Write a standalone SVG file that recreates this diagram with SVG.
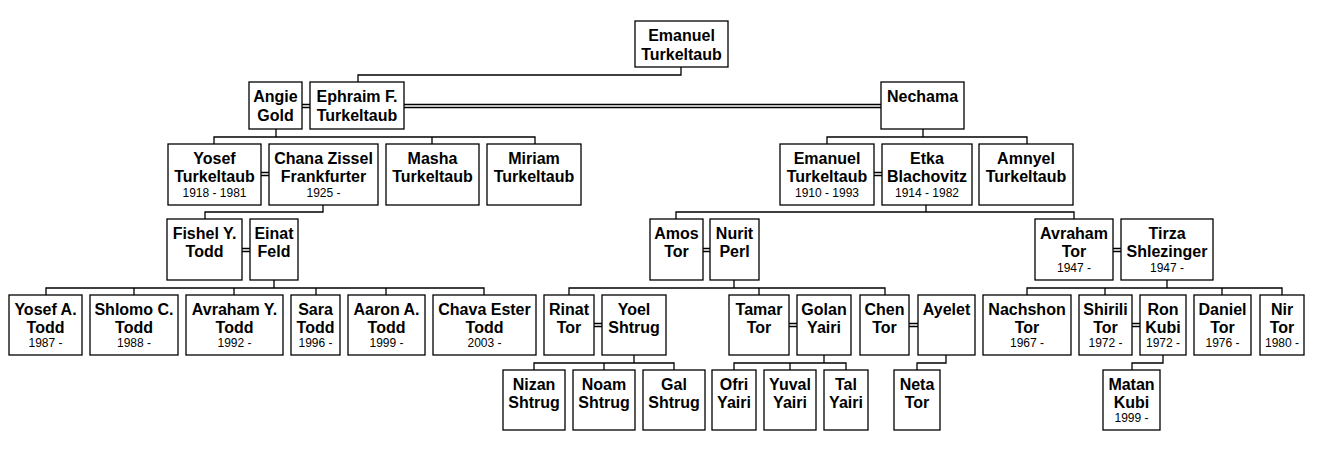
<svg xmlns="http://www.w3.org/2000/svg" width="1323" height="450" viewBox="0 0 1323 450">
<style>
rect{fill:#fff;stroke:#000;stroke-width:1.3}
.n{font-family:"Liberation Sans",Arial,sans-serif;font-weight:bold;font-size:16px;text-anchor:middle;fill:#000}
.d{font-family:"Liberation Sans",Arial,sans-serif;font-size:12px;text-anchor:middle;fill:#000}
#c path{fill:none;stroke:#000;stroke-width:1.3}
</style>
<rect x="0" y="0" width="1323" height="450" style="stroke:none"/>
<g id="c">
<path d="M681 67V75H358V82"/>
<path d="M302 104.5H310M302 107.5H310"/>
<path d="M404 104.5H881M404 107.5H881"/>
<path d="M276 129V137M214 144V137H535V144M432 137V144"/>
<path d="M923 129V137M827 144V137H1027V144"/>
<path d="M261 172.5H269M261 175.5H269"/>
<path d="M874 172.5H882M874 175.5H882"/>
<path d="M323 205V212H205V219"/>
<path d="M926 205V212H676V219M926 212H1074V219"/>
<path d="M242 248.5H250M242 251.5H250"/>
<path d="M703 248.5H710M703 251.5H710"/>
<path d="M1113 248.5H1121M1113 251.5H1121"/>
<path d="M274 280V288M46 295V288H484V295M134 288V295M234 288V295M316 288V295M386 288V295"/>
<path d="M734 280V288M569 295V288H885V295M759 288V295"/>
<path d="M1167 280V288M1027 295V288H1282V295M1105 288V295M1222 288V295"/>
<path d="M594 323.5H602M594 326.5H602"/>
<path d="M789 323.5H797M789 326.5H797"/>
<path d="M909 323.5H918M909 326.5H918"/>
<path d="M1132 323.5H1140M1132 326.5H1140"/>
<path d="M634 355V363M534 370V363H674V370M604 363V370"/>
<path d="M824 355V363M734 370V363H846V370M790 363V370"/>
<path d="M946 355V363H917V370"/>
<path d="M1163 355V363H1132V370"/>
</g>
<g id="n0"><rect x="635" y="21" width="93" height="46"/><text class="n" x="681.5" y="41">Emanuel</text><text class="n" x="681.5" y="60">Turkeltaub</text></g>
<g id="n1"><rect x="249" y="82" width="53" height="47"/><text class="n" x="275.5" y="102">Angie</text><text class="n" x="275.5" y="121">Gold</text></g>
<g id="n2"><rect x="310" y="82" width="94" height="47"/><text class="n" x="357" y="102">Ephraim F.</text><text class="n" x="357" y="121">Turkeltaub</text></g>
<g id="n3"><rect x="881" y="82" width="83" height="47"/><text class="n" x="922.5" y="102">Nechama</text></g>
<g id="n4"><rect x="168" y="144" width="93" height="61"/><text class="n" x="214.5" y="164">Yosef</text><text class="n" x="214.5" y="182">Turkeltaub</text><text class="d" x="214.5" y="197">1918 - 1981</text></g>
<g id="n5"><rect x="269" y="144" width="109" height="61"/><text class="n" x="323.5" y="164">Chana Zissel</text><text class="n" x="323.5" y="182">Frankfurter</text><text class="d" x="323.5" y="197">1925 -</text></g>
<g id="n6"><rect x="386" y="144" width="93" height="61"/><text class="n" x="432.5" y="164">Masha</text><text class="n" x="432.5" y="182">Turkeltaub</text></g>
<g id="n7"><rect x="487" y="144" width="94" height="61"/><text class="n" x="534" y="164">Miriam</text><text class="n" x="534" y="182">Turkeltaub</text></g>
<g id="n8"><rect x="780" y="144" width="94" height="61"/><text class="n" x="827" y="164">Emanuel</text><text class="n" x="827" y="182">Turkeltaub</text><text class="d" x="827" y="197">1910 - 1993</text></g>
<g id="n9"><rect x="882" y="144" width="90" height="61"/><text class="n" x="927" y="164">Etka</text><text class="n" x="927" y="182">Blachovitz</text><text class="d" x="927" y="197">1914 - 1982</text></g>
<g id="n10"><rect x="979" y="144" width="94" height="61"/><text class="n" x="1026" y="164">Amnyel</text><text class="n" x="1026" y="182">Turkeltaub</text></g>
<g id="n11"><rect x="167" y="219" width="75" height="61"/><text class="n" x="204.5" y="239">Fishel Y.</text><text class="n" x="204.5" y="257">Todd</text></g>
<g id="n12"><rect x="250" y="219" width="48" height="61"/><text class="n" x="274" y="239">Einat</text><text class="n" x="274" y="257">Feld</text></g>
<g id="n13"><rect x="650" y="219" width="53" height="61"/><text class="n" x="676.5" y="239">Amos</text><text class="n" x="676.5" y="257">Tor</text></g>
<g id="n14"><rect x="710" y="219" width="49" height="61"/><text class="n" x="734.5" y="239">Nurit</text><text class="n" x="734.5" y="257">Perl</text></g>
<g id="n15"><rect x="1035" y="219" width="78" height="61"/><text class="n" x="1074" y="239">Avraham</text><text class="n" x="1074" y="257">Tor</text><text class="d" x="1074" y="272">1947 -</text></g>
<g id="n16"><rect x="1121" y="219" width="92" height="61"/><text class="n" x="1167" y="239">Tirza</text><text class="n" x="1167" y="257">Shlezinger</text><text class="d" x="1167" y="272">1947 -</text></g>
<g id="n17"><rect x="9" y="295" width="73" height="60"/><text class="n" x="45.5" y="315">Yosef A.</text><text class="n" x="45.5" y="333">Todd</text><text class="d" x="45.5" y="347">1987 -</text></g>
<g id="n18"><rect x="90" y="295" width="88" height="60"/><text class="n" x="134" y="315">Shlomo C.</text><text class="n" x="134" y="333">Todd</text><text class="d" x="134" y="347">1988 -</text></g>
<g id="n19"><rect x="186" y="295" width="97" height="60"/><text class="n" x="234.5" y="315">Avraham Y.</text><text class="n" x="234.5" y="333">Todd</text><text class="d" x="234.5" y="347">1992 -</text></g>
<g id="n20"><rect x="291" y="295" width="49" height="60"/><text class="n" x="315.5" y="315">Sara</text><text class="n" x="315.5" y="333">Todd</text><text class="d" x="315.5" y="347">1996 -</text></g>
<g id="n21"><rect x="348" y="295" width="77" height="60"/><text class="n" x="386.5" y="315">Aaron A.</text><text class="n" x="386.5" y="333">Todd</text><text class="d" x="386.5" y="347">1999 -</text></g>
<g id="n22"><rect x="433" y="295" width="103" height="60"/><text class="n" x="484.5" y="315">Chava Ester</text><text class="n" x="484.5" y="333">Todd</text><text class="d" x="484.5" y="347">2003 -</text></g>
<g id="n23"><rect x="544" y="295" width="50" height="60"/><text class="n" x="569" y="315">Rinat</text><text class="n" x="569" y="333">Tor</text></g>
<g id="n24"><rect x="602" y="295" width="64" height="60"/><text class="n" x="634" y="315">Yoel</text><text class="n" x="634" y="333">Shtrug</text></g>
<g id="n25"><rect x="729" y="295" width="60" height="60"/><text class="n" x="759" y="315">Tamar</text><text class="n" x="759" y="333">Tor</text></g>
<g id="n26"><rect x="797" y="295" width="54" height="60"/><text class="n" x="824" y="315">Golan</text><text class="n" x="824" y="333">Yairi</text></g>
<g id="n27"><rect x="860" y="295" width="49" height="60"/><text class="n" x="884.5" y="315">Chen</text><text class="n" x="884.5" y="333">Tor</text></g>
<g id="n28"><rect x="918" y="295" width="57" height="60"/><text class="n" x="946.5" y="315">Ayelet</text></g>
<g id="n29"><rect x="983" y="295" width="88" height="60"/><text class="n" x="1027" y="315">Nachshon</text><text class="n" x="1027" y="333">Tor</text><text class="d" x="1027" y="347">1967 -</text></g>
<g id="n30"><rect x="1079" y="295" width="53" height="60"/><text class="n" x="1105.5" y="315">Shirili</text><text class="n" x="1105.5" y="333">Tor</text><text class="d" x="1105.5" y="347">1972 -</text></g>
<g id="n31"><rect x="1140" y="295" width="46" height="60"/><text class="n" x="1163" y="315">Ron</text><text class="n" x="1163" y="333">Kubi</text><text class="d" x="1163" y="347">1972 -</text></g>
<g id="n32"><rect x="1194" y="295" width="57" height="60"/><text class="n" x="1222.5" y="315">Daniel</text><text class="n" x="1222.5" y="333">Tor</text><text class="d" x="1222.5" y="347">1976 -</text></g>
<g id="n33"><rect x="1260" y="295" width="44" height="60"/><text class="n" x="1282" y="315">Nir</text><text class="n" x="1282" y="333">Tor</text><text class="d" x="1282" y="347">1980 -</text></g>
<g id="n34"><rect x="503" y="370" width="62" height="60"/><text class="n" x="534" y="390">Nizan</text><text class="n" x="534" y="408">Shtrug</text></g>
<g id="n35"><rect x="573" y="370" width="62" height="60"/><text class="n" x="604" y="390">Noam</text><text class="n" x="604" y="408">Shtrug</text></g>
<g id="n36"><rect x="643" y="370" width="62" height="60"/><text class="n" x="674" y="390">Gal</text><text class="n" x="674" y="408">Shtrug</text></g>
<g id="n37"><rect x="712" y="370" width="44" height="60"/><text class="n" x="734" y="390">Ofri</text><text class="n" x="734" y="408">Yairi</text></g>
<g id="n38"><rect x="764" y="370" width="52" height="60"/><text class="n" x="790" y="390">Yuval</text><text class="n" x="790" y="408">Yairi</text></g>
<g id="n39"><rect x="824" y="370" width="44" height="60"/><text class="n" x="846" y="390">Tal</text><text class="n" x="846" y="408">Yairi</text></g>
<g id="n40"><rect x="894" y="370" width="46" height="60"/><text class="n" x="917" y="390">Neta</text><text class="n" x="917" y="408">Tor</text></g>
<g id="n41"><rect x="1103" y="370" width="57" height="60"/><text class="n" x="1131.5" y="390">Matan</text><text class="n" x="1131.5" y="408">Kubi</text><text class="d" x="1131.5" y="422">1999 -</text></g>
</svg>
